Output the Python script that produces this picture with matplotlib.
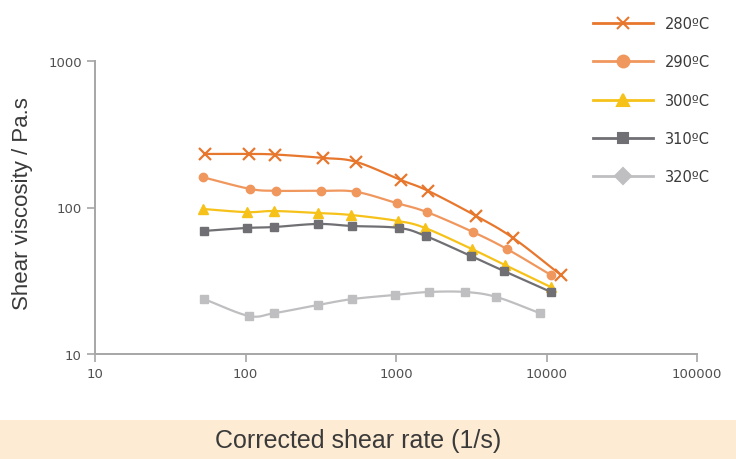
# Shear viscosity vs corrected shear rate, log-log

import numpy as np
import matplotlib.pyplot as plt
from matplotlib.lines import Line2D
from matplotlib.patches import Rectangle

# data
x280 = [54, 105, 157, 327, 542, 1079, 1632, 3400, 5990, 12470]
y280 = [232, 232, 230, 218, 205, 154, 130, 87.6, 62, 34.6]

x290 = [52, 107, 160, 318, 542, 1016, 1607, 3250, 5470, 10710]
y290 = [161, 134, 130, 130, 128, 107, 93, 68, 52, 34.6]

x300 = [52, 102, 155, 303, 502, 1030, 1560, 3200, 5300, 10710]
y300 = [97.7, 93, 94.6, 91.7, 88.9, 80.9, 72.5, 52, 40.5, 28.6]

x310 = [53, 102, 155, 303, 510, 1050, 1580, 3140, 5200, 10710]
y310 = [69.2, 72.5, 73.6, 77.2, 74.8, 72.5, 63.8, 46.7, 36.9, 26.5]

x320 = [53, 105, 155, 303, 510, 982, 1650, 2880, 4650, 9050]
y320 = [23.7, 18.2, 19.0, 21.6, 23.7, 25.3, 26.5, 26.5, 24.5, 19.0]

labels = ['280ºC', '290ºC', '300ºC', '310ºC', '320ºC']
colors = ['#e8772e', '#f0975e', '#f6c21a', '#707074', '#bfbfc1']


def smooth(x, y, n=12):
    # catmull-rom through the points, in log space
    lx, ly = np.log10(x), np.log10(y)
    px = np.concatenate([[2*lx[0]-lx[1]], lx, [2*lx[-1]-lx[-2]]])
    py = np.concatenate([[2*ly[0]-ly[1]], ly, [2*ly[-1]-ly[-2]]])
    ox, oy = [], []
    t = np.linspace(0, 1, n, endpoint=False)
    for i in range(1, len(px)-2):
        for p, o in ((px, ox), (py, oy)):
            p0, p1, p2, p3 = p[i-1], p[i], p[i+1], p[i+2]
            o.extend(0.5*((2*p1) + (-p0+p2)*t + (2*p0-5*p1+4*p2-p3)*t**2
                          + (-p0+3*p1-3*p2+p3)*t**3))
    ox.append(lx[-1]); oy.append(ly[-1])
    return 10**np.array(ox), 10**np.array(oy)


fig = plt.figure(figsize=(7.36, 4.6), dpi=100)
fig.patch.set_facecolor('white')
ax = fig.add_axes([95/736, 1-355/460, (697-95)/736, (355-62)/460])

series = [(x280, y280, 'x', 8, 1.6), (x290, y290, 'o', 6, 0),
          (x300, y300, '^', 7, 0), (x310, y310, 's', 6, 0),
          (x320, y320, 's', 6, 0)]
for (x, y, m, ms, mew), c in zip(series, colors):
    sx, sy = smooth(x, y)
    ax.plot(sx, sy, color=c, lw=1.6)
    ax.plot(x, y, ls='none', marker=m, ms=ms, color=c, mew=mew if mew else 1)

ax.set_xscale('log')
ax.set_yscale('log')
ax.set_xlim(10, 100000)
ax.set_ylim(10, 1000)
ax.minorticks_off()
ax.set_xticks([10, 100, 1000, 10000, 100000])
ax.set_xticklabels(['10', '100', '1000', '10000', '100000'])
ax.set_yticks([10, 100, 1000])
ax.set_yticklabels(['10', '100', '1000'])
for s in ['top', 'right']:
    ax.spines[s].set_visible(False)
for s in ['left', 'bottom']:
    ax.spines[s].set_color('#a6a6a6')
    ax.spines[s].set_linewidth(1.4)
ax.tick_params(colors='#a6a6a6', labelcolor='#505050', labelsize=9.5,
               length=6, width=1.2)
fig.text(23/736, 1-204/460, 'Shear viscosity / Pa.s', rotation=90,
         ha='center', va='center', fontsize=16, color='#3a3a3a',
         family='Liberation Sans')

# legend
markers = ['x', 'o', '^', 's', 'D']
msizes = [9, 8.5, 8.5, 7.5, 8.5]
handles = [Line2D([], [], color=c, lw=2.0, marker=m, ms=s, mew=1.5)
           for c, m, s in zip(colors, markers, msizes)]
fig.legend(handles, labels, loc='upper left', bbox_to_anchor=(580/736, 1-4/460),
           frameon=False, fontsize=10.5, handlelength=4.1, handletextpad=0.8,
           labelspacing=1.6, labelcolor='#3a3a3a')

# x label band
fig.patches.append(Rectangle((0, 0), 1, 39/460, transform=fig.transFigure,
                             facecolor='#fdebd3', edgecolor='none', zorder=0))
fig.text(358/736, 1-441/460, 'Corrected shear rate (1/s)', ha='center',
         va='center', fontsize=18, color='#3a3a3a', family='Liberation Sans')

plt.savefig('out.png', dpi=100)
